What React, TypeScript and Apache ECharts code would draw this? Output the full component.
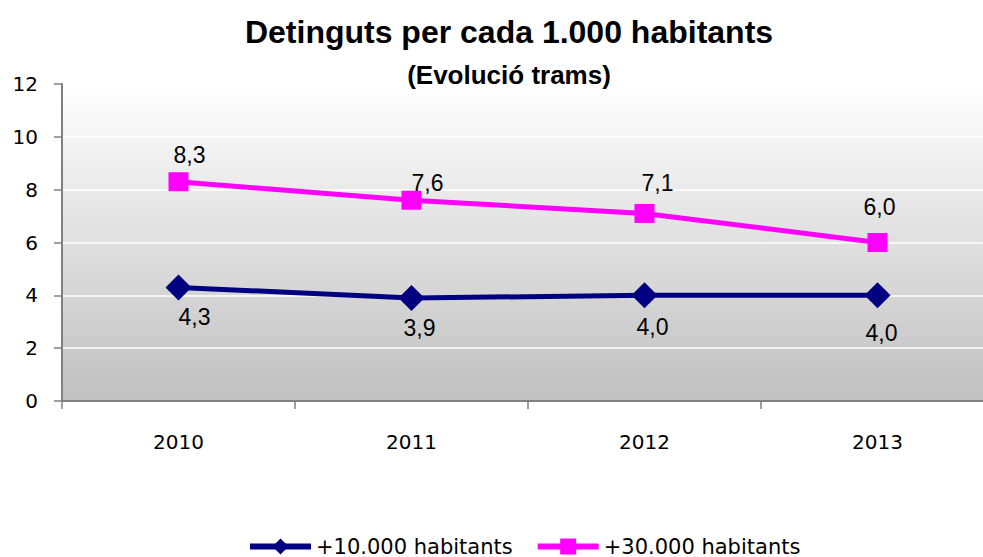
import React, { useEffect, useRef } from "react";
import * as echarts from "echarts";

const titleText = "Detinguts per cada 1.000 habitants";
const subtitleText = "(Evolució trams)";
const years = ["2010", "2011", "2012", "2013"];
const seriesNames = ["+10.000 habitants", "+30.000 habitants"];
const values10k = [4.3, 3.9, 4.0, 4.0];
const values30k = [8.3, 7.6, 7.1, 6.0];
const yMin = 0;
const yMax = 12;
const yInterval = 2;

// label placement (style), relative to each point's centre
const navyLabelOffsets = [[16, 30], [8, 30], [8, 32], [4, 38]];
const pinkLabelOffsets = [[11, -27], [16, -17], [13, -30], [2, -36]];

const fmt = (v: number) => v.toFixed(1).replace(".", ",");

export default function App() {
  const ref = useRef<HTMLDivElement>(null);
  useEffect(() => {
    if (!ref.current) return;
    const chart = echarts.init(ref.current, undefined, { renderer: "svg" });
    const labelBase = {
      show: true,
      position: "inside",
      fontFamily: "Liberation Sans, Arial, sans-serif",
      fontSize: 23,
      color: "#000",
      formatter: (p: any) => fmt(p.value),
    };
    chart.setOption({
      animation: false,
      backgroundColor: "#ffffff",
      title: [
        {
          text: titleText,
          left: 504,
          top: 11,
          textAlign: "center",
          textStyle: { fontFamily: "Liberation Sans, Arial, sans-serif", fontWeight: "bold", fontSize: 32, color: "#000" },
        },
        {
          text: subtitleText,
          left: 504,
          top: 57,
          textAlign: "center",
          textStyle: { fontFamily: "Liberation Sans, Arial, sans-serif", fontWeight: "bold", fontSize: 26, color: "#000" },
        },
      ],
      grid: {
        left: 62,
        top: 84,
        width: 932,
        height: 317,
        show: true,
        borderWidth: 0,
        backgroundColor: new echarts.graphic.LinearGradient(0, 0, 0, 1, [
          { offset: 0, color: "#ffffff" },
          { offset: 1, color: "#c0c0c0" },
        ]),
      },
      legend: {
        left: 247,
        top: 536,
        padding: 0,
        itemWidth: 61,
        itemHeight: 20,
        itemGap: 22,
        lineStyle: { width: 6 },
        textStyle: { fontFamily: "DejaVu Sans, sans-serif", fontSize: 21, lineHeight: 18, color: "#000" },
        data: seriesNames,
      },
      xAxis: {
        type: "category",
        data: years,
        boundaryGap: true,
        axisLine: { lineStyle: { color: "#808080", width: 2 } },
        axisTick: { show: true, length: 8, lineStyle: { color: "#808080", width: 1.5 } },
        axisLabel: { margin: 31, fontFamily: "DejaVu Sans, sans-serif", fontSize: 20, color: "#000" },
        splitLine: { show: false },
      },
      yAxis: {
        type: "value",
        min: yMin,
        max: yMax,
        interval: yInterval,
        axisLine: { show: true, lineStyle: { color: "#808080", width: 2 } },
        axisTick: { show: true, length: 8, lineStyle: { color: "#808080", width: 1.5 } },
        axisLabel: { margin: 24, fontFamily: "DejaVu Sans, sans-serif", fontSize: 20, color: "#000" },
        splitLine: { show: true, lineStyle: { color: "#ffffff", width: 1.5 } },
      },
      series: [
        {
          name: seriesNames[0],
          type: "line",
          data: values10k.map((v, i) => ({ value: v, label: { offset: navyLabelOffsets[i] } })),
          symbol: "diamond",
          symbolSize: 26,
          lineStyle: { color: "#000080", width: 5 },
          itemStyle: { color: "#000080" },
          label: labelBase,
          z: 3,
        },
        {
          name: seriesNames[1],
          type: "line",
          data: values30k.map((v, i) => ({ value: v, label: { offset: pinkLabelOffsets[i] } })),
          symbol: "rect",
          symbolSize: [20, 19],
          lineStyle: { color: "#ff00ff", width: 5 },
          itemStyle: { color: "#ff00ff" },
          label: labelBase,
          z: 3,
        },
      ],
    });
    return () => chart.dispose();
  }, []);
  return (
    <div style={{ position: "fixed", left: 0, top: 0, width: 983, height: 557, overflow: "hidden" }}>
      <div ref={ref} style={{ width: 1000, height: 557 }} />
    </div>
  );
}
